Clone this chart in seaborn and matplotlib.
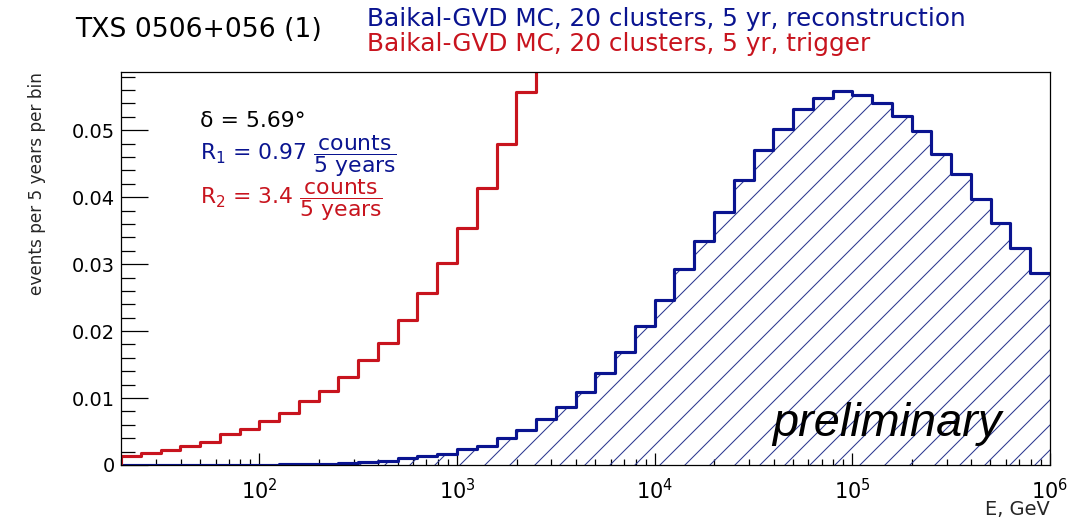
import numpy as np
import pandas as pd
import matplotlib
matplotlib.use("Agg")
import matplotlib.pyplot as plt
import seaborn as sns
from matplotlib.ticker import MultipleLocator, FuncFormatter, LogLocator, NullFormatter

# Energy binning: 10 logarithmic bins per decade, 10^1.3 ... 10^6 GeV
log_e_edges = np.arange(13, 61) / 10.0
energy_edges = 10.0 ** log_e_edges

# Expected events per 5 years per bin, reconstructed events (47 bins)
reco_counts = [
    0.00002, 0.00002, 0.00003, 0.00003, 0.00004, 0.00005, 0.00006, 0.00007, 0.00009, 0.00018,
    0.00022, 0.00035, 0.0005, 0.00065, 0.0010, 0.0013, 0.0016, 0.00235, 0.0029, 0.0041,
    0.0053, 0.0068, 0.0086, 0.0109, 0.0138, 0.0169, 0.0207, 0.0247, 0.0292, 0.0334,
    0.0378, 0.0426, 0.0471, 0.0502, 0.0531, 0.0548, 0.0559, 0.0552, 0.0541, 0.0521,
    0.0499, 0.0464, 0.0434, 0.0397, 0.0361, 0.0324, 0.0287,
]

# Expected events per 5 years per bin, triggered events (last bin runs off scale)
trig_counts = [
    0.00136, 0.0018, 0.00226, 0.0028, 0.0035, 0.0046, 0.00535, 0.0065, 0.00775, 0.0095,
    0.0110, 0.0132, 0.0157, 0.0182, 0.0217, 0.0257, 0.0301, 0.0354, 0.0414, 0.0479,
    0.0557, 0.0660,
]

title_text = "TXS 0506+056 (1)"
reco_label = "Baikal-GVD MC, 20 clusters, 5 yr, reconstruction"
trig_label = "Baikal-GVD MC, 20 clusters, 5 yr, trigger"
decl_text = "\u03b4 = 5.69\u00b0"
rate1_text = r"R$_1$ = 0.97 $\dfrac{\mathrm{counts}}{\mathrm{5\ years}}$"
rate2_text = r"R$_2$ = 3.4 $\dfrac{\mathrm{counts}}{\mathrm{5\ years}}$"

BLUE = "#0a1490"
RED = "#c8141e"
HATCH = "#2c3890"

W, H, DPI = 1084, 518, 150

sns.set_theme(style="ticks")
plt.rcParams.update({
    "axes.edgecolor": "black",
    "axes.linewidth": 0.6,
    "hatch.linewidth": 0.5,
    "xtick.color": "black",
    "ytick.color": "black",
    "mathtext.fontset": "dejavusans",
})
plt.rcParams["font.family"] = ["DejaVu Sans"]

fig = plt.figure(figsize=(W / DPI, H / DPI), dpi=DPI)
fig.patch.set_facecolor("white")


def fx(px):
    return px / W


def fy(py):
    return 1.0 - py / H


ax = fig.add_axes([fx(121), fy(465), fx(1050) - fx(121), fy(72) - fy(465)])
ax.set_facecolor("white")


def step_frame(values):
    """Outline of a histogram: rise from zero at the first edge, then one step per bin."""
    n = len(values)
    xs = np.concatenate([[energy_edges[0]], energy_edges[: n + 1]])
    ys = np.concatenate([[0.0], values, [values[-1]]])
    return pd.DataFrame({"E": xs, "rate": ys})


# hatched area under the reconstruction histogram
reco_arr = np.asarray(reco_counts)
ax.fill_between(energy_edges, np.append(reco_arr, reco_arr[-1]), step="post",
                facecolor="none", edgecolor=HATCH, hatch="//", linewidth=0, zorder=1)

sns.lineplot(data=step_frame(reco_counts), x="E", y="rate", estimator=None, sort=False,
             drawstyle="steps-post", color=BLUE, linewidth=1.5, ax=ax, zorder=3)
sns.lineplot(data=step_frame(trig_counts), x="E", y="rate", estimator=None, sort=False,
             drawstyle="steps-post", color=RED, linewidth=1.5, ax=ax, zorder=3)

ax.set_xscale("log")
ax.set_xlim(energy_edges[0], energy_edges[-1])
ax.set_ylim(0, 1.05 * max(reco_counts))

ax.yaxis.set_major_locator(MultipleLocator(0.01))
ax.yaxis.set_minor_locator(MultipleLocator(0.002))
ax.yaxis.set_major_formatter(FuncFormatter(lambda v, p: "0" if abs(v) < 1e-9 else f"{v:.2f}"))
ax.xaxis.set_major_locator(LogLocator(base=10))
ax.xaxis.set_minor_locator(LogLocator(base=10, subs=np.arange(2, 10)))
ax.xaxis.set_minor_formatter(NullFormatter())

ax.tick_params(which="both", direction="in", top=False, right=False, width=0.6)
ax.tick_params(axis="y", which="major", length=12.8, pad=3, labelsize=9.3)
ax.tick_params(axis="y", which="minor", length=6.5)
ax.tick_params(axis="x", which="major", length=5.8, pad=6, labelsize=10)
ax.tick_params(axis="x", which="minor", length=2.9)

for s in ax.spines.values():
    s.set_visible(True)
    s.set_linewidth(0.6)
    s.set_zorder(5)

ax.set_xlabel("E, GeV", fontsize=9.3)
ax.xaxis.set_label_coords(1.0, -0.089)
ax.xaxis.label.set_ha("right")
ax.set_ylabel("events per 5 years per bin", fontsize=8.1)
ax.yaxis.set_label_coords(-0.081, 1.0)
ax.yaxis.label.set_ha("right")

# header lines
fig.text(fx(75), fy(37), title_text, fontsize=12.8, color="black", va="baseline")
fig.text(fx(367), fy(26), reco_label, fontsize=11.9, color=BLUE, va="baseline")
fig.text(fx(367), fy(51), trig_label, fontsize=11.9, color=RED, va="baseline")

# annotations inside the frame
fig.text(fx(200), fy(127), decl_text, fontsize=10.5, color="black", va="baseline")
fig.text(fx(200), fy(160), rate1_text, fontsize=10.5, color=BLUE, va="baseline")
fig.text(fx(200), fy(204), rate2_text, fontsize=10.5, color=RED, va="baseline")

fig.text(fx(772), fy(436), "preliminary", fontsize=22.5, color="black", va="baseline",
         family=["Liberation Sans", "DejaVu Sans"], style="italic")

fig.savefig("out.png", dpi=DPI, facecolor="white")
